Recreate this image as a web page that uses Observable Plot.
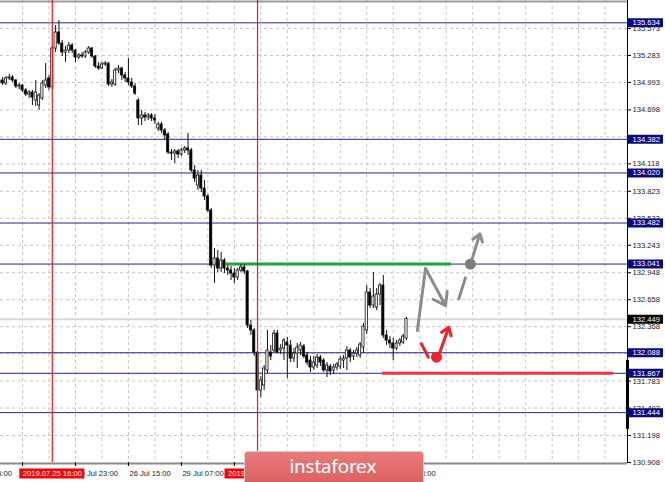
<!DOCTYPE html>
<html><head><meta charset="utf-8">
<script src="https://cdn.jsdelivr.net/npm/d3@7"></script>
<script src="https://cdn.jsdelivr.net/npm/@observablehq/plot@0.6"></script>
<style>
html,body{margin:0;padding:0;background:#fff;}
#chart svg{display:block;}
</style>
</head><body><div id="chart"></div>
<script>
// ---- Data (H1 candles, bar index from 25 Jul 00:00, weekend skipped) ----
const opens = [
134.993,135.014,134.982,135.036,135.046,135.014,134.950,134.960,134.907,134.864,
134.885,134.799,134.745,134.821,134.960,135.036,134.939,135.358,135.530,135.412,
135.315,135.336,135.390,135.336,135.261,135.283,135.272,135.315,135.358,135.272,
135.165,135.143,135.186,135.197,134.971,134.971,135.122,135.143,135.068,135.036,
134.993,134.950,134.799,134.606,134.638,134.616,134.638,134.606,134.498,134.541,
134.477,134.434,134.240,134.229,134.251,134.219,134.262,134.284,134.262,134.047,
133.885,133.993,133.853,133.767,133.617,133.025,133.101,132.993,133.079,132.993,
132.972,132.939,132.896,132.972,133.004,132.961,132.380,132.327,132.090,131.682,
131.735,131.897,132.090,132.112,132.294,132.112,132.133,132.198,132.165,132.025,
132.079,132.112,132.155,132.058,132.004,131.929,131.950,132.036,132.004,131.897,
131.939,131.897,131.929,131.939,132.004,132.025,132.112,132.047,132.079,132.058,
132.144,132.327,132.735,132.595,132.574,132.714,132.810,132.273,132.219,132.187,
132.133,132.187,132.198,132.241];
const highs = [
135.036,135.046,135.057,135.079,135.068,135.025,134.982,134.971,134.928,134.907,
134.907,135.014,134.874,135.014,135.197,135.068,135.380,135.605,135.659,135.444,
135.380,135.423,135.412,135.347,135.304,135.315,135.336,135.380,135.369,135.283,
135.208,135.208,135.218,135.208,135.025,135.143,135.175,135.154,135.100,135.251,
135.036,134.982,134.821,134.692,134.670,134.659,134.659,134.649,134.563,134.563,
134.498,134.455,134.273,134.273,134.273,134.284,134.305,134.444,134.284,134.100,
134.047,134.047,133.939,133.789,133.638,133.208,133.187,133.165,133.101,133.025,
133.015,132.993,132.993,133.036,133.036,132.972,132.434,132.348,132.112,131.832,
131.950,132.327,132.165,132.327,132.327,132.176,132.241,132.251,132.219,132.133,
132.187,132.198,132.176,132.090,132.047,132.047,132.069,132.058,132.025,131.982,
131.961,131.961,131.982,132.047,132.058,132.155,132.133,132.112,132.144,132.198,
132.402,132.810,132.778,132.950,132.778,132.832,132.918,132.327,132.262,132.241,
132.219,132.241,132.284,132.466];
const lows = [
134.971,134.960,134.960,135.014,134.993,134.928,134.917,134.885,134.842,134.821,
134.745,134.735,134.692,134.799,134.928,134.907,134.917,135.315,135.390,135.272,
135.208,135.304,135.304,135.208,135.240,135.251,135.251,135.294,135.251,135.143,
135.122,135.132,135.165,134.950,134.939,134.950,135.089,135.014,134.993,134.960,
134.928,134.853,134.530,134.530,134.573,134.584,134.573,134.541,134.466,134.444,
134.369,134.219,134.154,134.122,134.176,134.197,134.229,134.208,134.025,133.918,
133.832,133.810,133.724,133.595,132.993,132.832,132.950,132.950,132.939,132.918,
132.864,132.832,132.864,132.950,132.929,132.348,132.273,132.047,131.596,131.606,
131.682,131.864,132.004,132.090,132.079,132.069,132.004,131.811,131.982,131.982,
131.918,132.058,132.025,131.950,131.875,131.897,131.918,131.939,131.875,131.821,
131.843,131.854,131.897,131.907,131.918,131.897,131.982,132.004,132.036,132.025,
132.079,132.284,132.564,132.564,132.542,132.595,132.241,132.165,132.133,132.004,
132.112,132.155,132.176,132.219];
const closes = [
135.014,134.982,135.036,135.046,135.014,134.950,134.960,134.907,134.864,134.885,
134.831,134.885,134.853,134.982,135.014,134.939,135.358,135.530,135.412,135.315,
135.336,135.390,135.336,135.261,135.283,135.272,135.315,135.358,135.272,135.165,
135.143,135.186,135.197,134.971,134.993,135.122,135.143,135.068,135.036,134.993,
134.950,134.874,134.606,134.638,134.616,134.638,134.606,134.584,134.541,134.477,
134.423,134.240,134.229,134.251,134.219,134.262,134.284,134.262,134.047,133.961,
133.993,133.853,133.767,133.617,133.025,133.101,132.993,133.079,132.993,132.972,
132.939,132.896,132.972,133.004,132.961,132.380,132.327,132.090,131.682,131.789,
131.918,132.112,132.047,132.294,132.090,132.133,132.219,132.165,132.025,132.079,
132.144,132.165,132.047,131.982,131.929,131.982,132.036,131.982,131.897,131.950,
131.886,131.929,131.961,132.015,132.025,132.112,132.036,132.079,132.112,132.176,
132.369,132.735,132.595,132.692,132.714,132.810,132.273,132.219,132.187,132.133,
132.187,132.219,132.262,132.449];

const priceTicks = [135.573,135.283,134.993,134.698,134.408,134.118,133.823,133.533,133.243,132.948,132.658,132.368,132.078,131.783,131.493,131.198,130.908];
const levels = [135.634,134.382,134.020,133.482,133.041,132.088,131.867,131.444];
const currentPrice = 132.449;
const timeTickBars = [-9,7,23,39,55,71,87,103,119];
const timeTickLabels = ["24 Jul 15:00","25 Jul 07:00","25 Jul 23:00","26 Jul 15:00","29 Jul 07:00","29 Jul 23:00","30 Jul 15:00","31 Jul 07:00","31 Jul 23:00"];
const markerBars = [16,78];
const markerLabels = ["2019.07.25 16:00","2019.07.30 06:00"];
const resistance = {from:68.6, to:136.6, price:133.041};
const support = {from:115.75, to:185.5, price:131.867};
// forecast sketch (bar index, price)
const greyPath = [[126.3,132.327],[128.75,132.993]];
const greyArrowDown = [[128.75,132.993],[134.8,132.595]];
const greyDash = [[138.8,132.667],[140.8,132.893]];
const greyDot = [142.3,133.041];
const greyArrowUp = [[142.85,133.097],[145.15,133.366]];
const redDash = [[127.5,132.184],[129.6,132.041]];
const redDot = [132.07,132.040];
const redArrowUp = [[133.07,132.093],[135.79,132.362]];

// ---- Layout ----
const xMin = 0.35, xMax = 189.77;
const yMin = 130.908, yMax = 135.874;
const plotW = 627, plotH = 462;
const pxX = (xMax - xMin) / plotW;
const pxY = (yMax - yMin) / plotH;
const toPx = b => (b - xMin) / pxX;
const badge = {x0: 244.5, x1: 423.5};

const bars = opens.map((o, i) => ({i, o, h: highs[i], l: lows[i], c: closes[i]}));
const gridBars = d3.range(7, 190, 8);
const markers = markerBars.map((b, i) => ({b, t: markerLabels[i]}));
const timeTicks = timeTickBars.map((b, i) => ({b, t: timeTickLabels[i]})).filter(d => {
  const s = toPx(d.b), e = s + 41;
  if (s >= badge.x0 && e <= badge.x1) return false;
  return !markerBars.some(m => s >= toPx(m) - 33 && e <= toPx(m) + 33);
});
const tickLabels = priceTicks.filter(t => !levels.some(l => Math.abs(t - l) / pxY < 3));
const seg = a => ({x1: a[0][0], y1: a[0][1], x2: a[1][0], y2: a[1][1]});

const font = "'Liberation Sans', Arial, sans-serif";
const chart = Plot.plot({
  width: 665, height: 482,
  marginLeft: 0, marginRight: 38, marginTop: 0, marginBottom: 20,
  x: {domain: [xMin, xMax], axis: null},
  y: {domain: [yMin, yMax], axis: null},
  style: {background: "#fff", fontFamily: font},
  marks: [
    Plot.ruleY(priceTicks.slice(0, -1), {stroke: "#c6c6c6", strokeDasharray: "3,3"}),
    Plot.ruleX(gridBars, {stroke: "#c6c6c6", strokeDasharray: "3,3"}),
    Plot.ruleY([currentPrice], {stroke: "#d8d8d8", strokeWidth: 2}),
    Plot.ruleY(levels, {stroke: "#26268f", strokeWidth: 1}),
    Plot.ruleY([resistance.price], {x1: resistance.from, x2: resistance.to, stroke: "#1fa33c", strokeWidth: 3}),
    Plot.ruleY([support.price], {x1: support.from, x2: support.to, stroke: "#f2333d", strokeWidth: 3}),
    // candles
    Plot.ruleX(bars, {x: "i", y1: "l", y2: "h", stroke: "#111", strokeWidth: 1}),
    Plot.rect(bars, {x1: d => d.i - 0.33, x2: d => d.i + 0.33, y1: "o", y2: "c",
      fill: d => d.c >= d.o ? "#fff" : "#000", stroke: "#111", strokeWidth: 0.8}),
    // forecast sketch
    Plot.line(greyPath, {x: d => d[0], y: d => d[1], stroke: "#8c8c8c", strokeWidth: 3}),
    Plot.arrow([seg(greyArrowDown)], {x1: "x1", y1: "y1", x2: "x2", y2: "y2", stroke: "#8c8c8c", strokeWidth: 3, headLength: 11, headAngle: 70}),
    Plot.line(greyDash, {x: d => d[0], y: d => d[1], stroke: "#8c8c8c", strokeWidth: 3}),
    Plot.dot([greyDot], {x: d => d[0], y: d => d[1], r: 5.5, fill: "#7d7d7d"}),
    Plot.arrow([seg(greyArrowUp)], {x1: "x1", y1: "y1", x2: "x2", y2: "y2", stroke: "#8c8c8c", strokeWidth: 3, headLength: 11, headAngle: 70}),
    Plot.line(redDash, {x: d => d[0], y: d => d[1], stroke: "#f0202c", strokeWidth: 3}),
    Plot.dot([redDot], {x: d => d[0], y: d => d[1], r: 5.5, fill: "#f0202c"}),
    Plot.arrow([seg(redArrowUp)], {x1: "x1", y1: "y1", x2: "x2", y2: "y2", stroke: "#f0202c", strokeWidth: 3, headLength: 11, headAngle: 70}),
    // frame
    Plot.ruleY([yMax], {dy: 1, stroke: "#9c9c9c", strokeWidth: 2}),
    Plot.ruleY([yMin], {dy: 1, stroke: "#8a8a8a", strokeWidth: 2}),
    Plot.ruleX([xMax], {stroke: "#000"}),
    Plot.ruleX([xMax], {y1: 132.004, y2: 131.264, stroke: "#000", strokeWidth: 3}),
    // right axis
    Plot.ruleY(priceTicks, {x1: xMax, x2: xMax + 4 * pxX, stroke: "#000"}),
    Plot.text(tickLabels, {x: xMax, y: d => d, dx: 5, text: d => d.toFixed(3), textAnchor: "start", fontSize: 7.6, fill: "#1a1a1a"}),
    Plot.ruleY(levels, {x1: xMax + 1 * pxX, x2: xMax + 36 * pxX, stroke: "#0b0b7e", strokeWidth: 9}),
    Plot.text(levels, {x: xMax, y: d => d, dx: 5, text: d => d.toFixed(3), textAnchor: "start", fontSize: 7.6, fill: "#fff"}),
    Plot.ruleY([currentPrice], {x1: xMax + 1 * pxX, x2: xMax + 36 * pxX, stroke: "#000", strokeWidth: 9}),
    Plot.text([currentPrice], {x: xMax, y: d => d, dx: 5, text: d => d.toFixed(3), textAnchor: "start", fontSize: 7.6, fill: "#fff"}),
    // bottom axis
    Plot.ruleX(timeTickBars, {y1: yMin, y2: yMin - 4 * pxY, stroke: "#000"}),
    Plot.text(timeTicks, {x: "b", y: yMin, dy: 11, dx: 1, text: "t", textAnchor: "start", fontSize: 7.6, fill: "#1a1a1a"}),
    Plot.ruleY(markers, {y: () => yMin, x1: d => d.b - 32.5 * pxX, x2: d => d.b + 32.5 * pxX, dy: 11, stroke: "#ff0000", strokeWidth: 10}),
    Plot.text(markers, {x: "b", y: yMin, dy: 11, text: "t", textAnchor: "middle", fontSize: 7.6, fill: "#fff"}),
    // vertical marker lines, on top
    Plot.ruleX(markers, {x: "b", stroke: "#ff1010", strokeWidth: 1.2})
  ]
});

// brand badge
const svg = d3.select(chart);
const defs = svg.append("defs");
const g = defs.append("linearGradient").attr("id", "badge").attr("x1", 0).attr("y1", 0).attr("x2", 0).attr("y2", 1);
g.append("stop").attr("offset", "0%").attr("stop-color", "#e97a7a");
g.append("stop").attr("offset", "100%").attr("stop-color", "#d95a5a");
svg.append("rect").attr("x", badge.x0).attr("y", 451.5).attr("width", badge.x1 - badge.x0).attr("height", 40).attr("rx", 3)
  .attr("fill", "url(#badge)").attr("stroke", "#d0d0d0").attr("stroke-width", 1);
svg.append("text").attr("x", 333).attr("y", 472.5).attr("text-anchor", "middle")
  .attr("font-family", "Lato, 'Open Sans', sans-serif").attr("font-size", 20).attr("fill", "#fff")
  .text("instaforex");

document.getElementById("chart").appendChild(chart);
</script>
</body></html>
